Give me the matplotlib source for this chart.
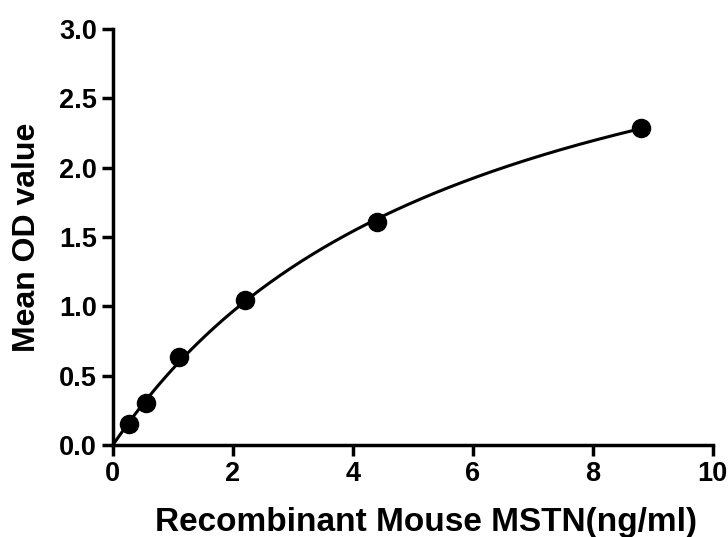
import numpy as np
import matplotlib
matplotlib.use("Agg")
import matplotlib.pyplot as plt

conc = [0.275, 0.55, 1.1, 2.2, 4.4, 8.8]
od = [0.155, 0.305, 0.635, 1.045, 1.61, 2.285]
xticks = [0, 2, 4, 6, 8, 10]
yticks = [0.0, 0.5, 1.0, 1.5, 2.0, 2.5, 3.0]
xlabel = "Recombinant Mouse MSTN(ng/ml)"
ylabel = "Mean OD value"

plt.rcParams['font.family'] = ['Liberation Sans', 'DejaVu Sans']
plt.rcParams['font.weight'] = 'bold'

# four-parameter logistic fit of the standard points (grid search + linear solve)
x = np.array(conc)
y = np.array(od)
best = None
for b in np.linspace(0.9, 1.4, 51):
    for c in np.geomspace(0.5, 100, 300):
        f = 1.0 / (1.0 + (x / c) ** b)
        A = np.column_stack([1 - f, f])
        sol, *_ = np.linalg.lstsq(A, y, rcond=None)
        if sol[1] < 0.0:
            continue
        err = np.sum((A @ sol - y) ** 2)
        if best is None or err < best[0]:
            best = (err, b, c, sol)
_, bb, cc, (dd, aa) = best

def model(xv):
    return dd + (aa - dd) / (1.0 + (xv / cc) ** bb)

fig = plt.figure(figsize=(7.28, 5.37), dpi=100)
ax = fig.add_axes([0.155, 0.171, 0.824, 0.775])

xs = np.linspace(0, max(conc), 400)
ax.plot(xs, model(xs), color='black', lw=2.2, clip_on=False, zorder=2)
ax.scatter(conc, od, s=170, color='black', zorder=3, clip_on=False)

ax.set_xlim(0, 10)
ax.set_ylim(0, 3.0)
ax.set_xticks(xticks)
ax.set_yticks(yticks)
ax.set_xticklabels([str(t) for t in xticks])
ax.set_yticklabels([f"{t:.1f}" for t in yticks])
for s in ['top', 'right']:
    ax.spines[s].set_visible(False)
for s in ['left', 'bottom']:
    ax.spines[s].set_linewidth(2.5)
ax.tick_params(axis='both', width=2.5, length=8, labelsize=19.5, direction='out')
ax.set_xlabel(xlabel, fontsize=24, fontweight='bold')
ax.set_ylabel(ylabel, fontsize=23, fontweight='bold')
ax.xaxis.set_label_coords(0.522, -0.148)
ax.yaxis.set_label_coords(-0.118, 0.5)

fig.savefig("out.png", dpi=100)
